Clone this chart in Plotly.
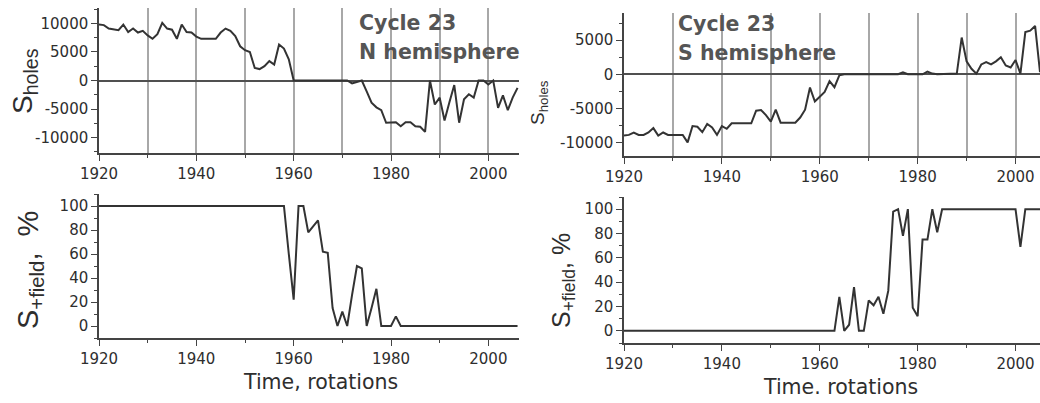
import plotly.graph_objects as go

W, H = 1040, 403

# ---------------- data ----------------
years_N = list(range(1920, 2007))
years_S = list(range(1920, 2006))

holes_N = [9800, 9700, 9100, 9000, 8800, 9800, 8500, 9100, 8400, 8700,
           7900, 7300, 8100, 10100, 9100, 8900, 7300, 9800, 8500, 8400,
           7700, 7300, 7300, 7300, 7300, 8400, 9100, 8700, 7800, 6000,
           5300, 5000, 2200, 2000, 2500, 3400, 2800, 6300, 5600, 3700,
           0, 0, 0, 0, 0, 0, 0, 0, 0, 0,
           0, 0, -500, -200, 0, -1900, -3900, -4700, -5200, -7400,
           -7300, -7300, -8000, -7300, -7300, -8000, -8100, -9000, 0, -4200,
           -3000, -7000, -3800, -800, -7400, -3300, -2400, -3000, 0, 0,
           -700, 0, -4800, -2600, -5200, -3000, -1300]

holes_S = [-9000, -8900, -8550, -8900, -8900, -8550, -7900, -9000, -8550, -8900,
           -8900, -8900, -8900, -10000, -7600, -7700, -8500, -7300, -7800, -8900,
           -7600, -8000, -7200, -7200, -7200, -7200, -7200, -5350, -5250, -6000,
           -6950, -5200, -7100, -7100, -7100, -7100, -6350, -5200, -1950, -4000,
           -3300, -2600, -1000, -1900, -150, 0, 0, 0, 0, 0,
           0, 0, 0, 0, 0, 0, 0, 300, 0, 0,
           0, 0, 400, 100, 0, 0, 100, 100, 100, 5400,
           1900, 800, 100, 1450, 1800, 1450, 1900, 2500, 1300, 1000,
           2100, 100, 6200, 6400, 7100, 300]

field_N = [100, 100, 100, 100, 100, 100, 100, 100, 100, 100,
           100, 100, 100, 100, 100, 100, 100, 100, 100, 100,
           100, 100, 100, 100, 100, 100, 100, 100, 100, 100,
           100, 100, 100, 100, 100, 100, 100, 100, 100, 60,
           22, 100, 100, 78, 83, 88, 62, 61, 15, 0,
           12, 0, 26, 50, 48, 0, 15, 31, 0, 0,
           0, 8, 0, 0, 0, 0, 0, 0, 0, 0,
           0, 0, 0, 0, 0, 0, 0, 0, 0, 0,
           0, 0, 0, 0, 0, 0, 0]

field_S = [0, 0, 0, 0, 0, 0, 0, 0, 0, 0,
           0, 0, 0, 0, 0, 0, 0, 0, 0, 0,
           0, 0, 0, 0, 0, 0, 0, 0, 0, 0,
           0, 0, 0, 0, 0, 0, 0, 0, 0, 0,
           0, 0, 0, 0, 28, 0, 5, 36, 0, 0,
           25, 21, 28, 14, 33, 98, 100, 78, 100, 19,
           12, 75, 75, 100, 81, 100, 100, 100, 100, 100,
           100, 100, 100, 100, 100, 100, 100, 100, 100, 100,
           100, 69, 100, 100, 100, 100]

x_tickvals = [1920, 1940, 1960, 1980, 2000]
x_ticktext = ["1920", "1940", "1960", "1980", "2000"]
yN_tickvals = [-10000, -5000, 0, 5000, 10000]
yN_ticktext = ["-10000", "-5000", "0", "5000", "10000"]
yS_tickvals = [-10000, -5000, 0, 5000]
yS_ticktext = ["-10000", "-5000", "0", "5000"]
pct_tickvals = [0, 20, 40, 60, 80, 100]
pct_ticktext = ["0", "20", "40", "60", "80", "100"]

# ---------------- helpers ----------------
def px(x):
    return x / W

def py(y):
    return 1 - y / H

LINE = "#333333"
AX = "#444444"
GRID = "#a8a8a8"
TXT = "#2e2e2e"
TICKFONT = dict(family="DejaVu Sans", size=15, color=TXT)

fig = go.Figure()
fig.add_trace(go.Scatter(x=years_N, y=holes_N, mode="lines", line=dict(color=LINE, width=2), xaxis="x", yaxis="y"))
fig.add_trace(go.Scatter(x=years_S, y=holes_S, mode="lines", line=dict(color=LINE, width=2), xaxis="x2", yaxis="y2"))
fig.add_trace(go.Scatter(x=years_N, y=field_N, mode="lines", line=dict(color=LINE, width=2), xaxis="x3", yaxis="y3"))
fig.add_trace(go.Scatter(x=years_S, y=field_S, mode="lines", line=dict(color=LINE, width=2), xaxis="x4", yaxis="y4"))


def xax(domain, rng, anchor, grid):
    d = dict(domain=domain, range=rng, anchor=anchor, automargin=False,
             tickmode="array", tickvals=x_tickvals, ticktext=x_ticktext,
             ticks="outside", ticklen=6, tickwidth=1.3, tickcolor=AX,
             showline=True, linecolor=AX, linewidth=1.5,
             tickfont=TICKFONT, zeroline=False,
             showgrid=grid, gridcolor=GRID, gridwidth=1.5,
             minor=dict(tickmode="linear", tick0=1930, dtick=20, ticks="outside",
                        ticklen=3, tickcolor=AX, showgrid=grid, gridcolor=GRID, gridwidth=1.5))
    return d


def yax(domain, rng, anchor, tv, tt, minor_dt, zero):
    return dict(domain=domain, range=rng, anchor=anchor, automargin=False,
                tickmode="array", tickvals=tv, ticktext=tt,
                ticks="outside", ticklen=6, tickwidth=1.3, tickcolor=AX,
                showline=True, linecolor=AX, linewidth=1.5,
                tickfont=TICKFONT, showgrid=False,
                zeroline=zero, zerolinecolor="#505050", zerolinewidth=1.6,
                minor=dict(tickmode="linear", tick0=0, dtick=minor_dt, ticks="outside",
                           ticklen=3, tickcolor=AX, showgrid=False))


fig.update_layout(
    width=W, height=H,
    margin=dict(l=0, r=0, t=0, b=0, autoexpand=False),
    paper_bgcolor="white", plot_bgcolor="white",
    showlegend=False,
    xaxis=xax([px(99), px(519)], [1920, 2006.3], "y", True),
    yaxis=yax([py(153), py(8)], [-12700, 12700], "x", yN_tickvals, yN_ticktext, 2500, True),
    xaxis2=xax([px(624), px(1040)], [1920, 2005], "y2", True),
    yaxis2=yax([py(156), py(13)], [-12000, 9000], "x2", yS_tickvals, yS_ticktext, 2500, True),
    xaxis3=xax([px(99), px(519)], [1920, 2006.3], "y3", False),
    yaxis3=yax([py(338), py(194)], [-10, 110], "x3", pct_tickvals, pct_ticktext, 10, False),
    xaxis4=xax([px(624), px(1040)], [1920, 2005], "y4", False),
    yaxis4=yax([py(343), py(197)], [-10, 110], "x4", pct_tickvals, pct_ticktext, 10, False),
)

TITLEFONT = dict(family="DejaVu Sans", size=20.5, color="#555555", weight="bold")
ann = []
for txt, x, y in [("Cycle 23", 357, 23), ("N hemisphere", 357, 52),
                  ("Cycle 23", 676, 24), ("S hemisphere", 676, 53)]:
    ann.append(dict(text=txt, x=px(x), y=py(y), xref="paper", yref="paper",
                    xanchor="left", yanchor="middle", showarrow=False, font=TITLEFONT))

for txt, x, y, size in [("S<sub>holes</sub>", 24, 81, 28),
                        ("S<sub>holes</sub>", 539, 103, 19),
                        ("S<sub>+field</sub>,  %", 30, 270, 29),
                        ("S<sub>+field</sub>, %", 563, 281, 25)]:
    ann.append(dict(text=txt, x=px(x), y=py(y), xref="paper", yref="paper",
                    xanchor="center", yanchor="middle", textangle=-90, showarrow=False,
                    font=dict(family="Liberation Sans", size=size, color=TXT)))

for txt, x, y in [("Time, rotations", 320, 382), ("Time. rotations", 840, 387)]:
    ann.append(dict(text=txt, x=px(x), y=py(y), xref="paper", yref="paper",
                    xanchor="center", yanchor="middle", showarrow=False,
                    font=dict(family="DejaVu Sans", size=20.5, color=TXT)))

fig.update_layout(annotations=ann)
fig.write_html("out.html",
               config={"displayModeBar": False},
               post_script="document.body.style.margin='0';document.body.style.overflow='hidden';")
